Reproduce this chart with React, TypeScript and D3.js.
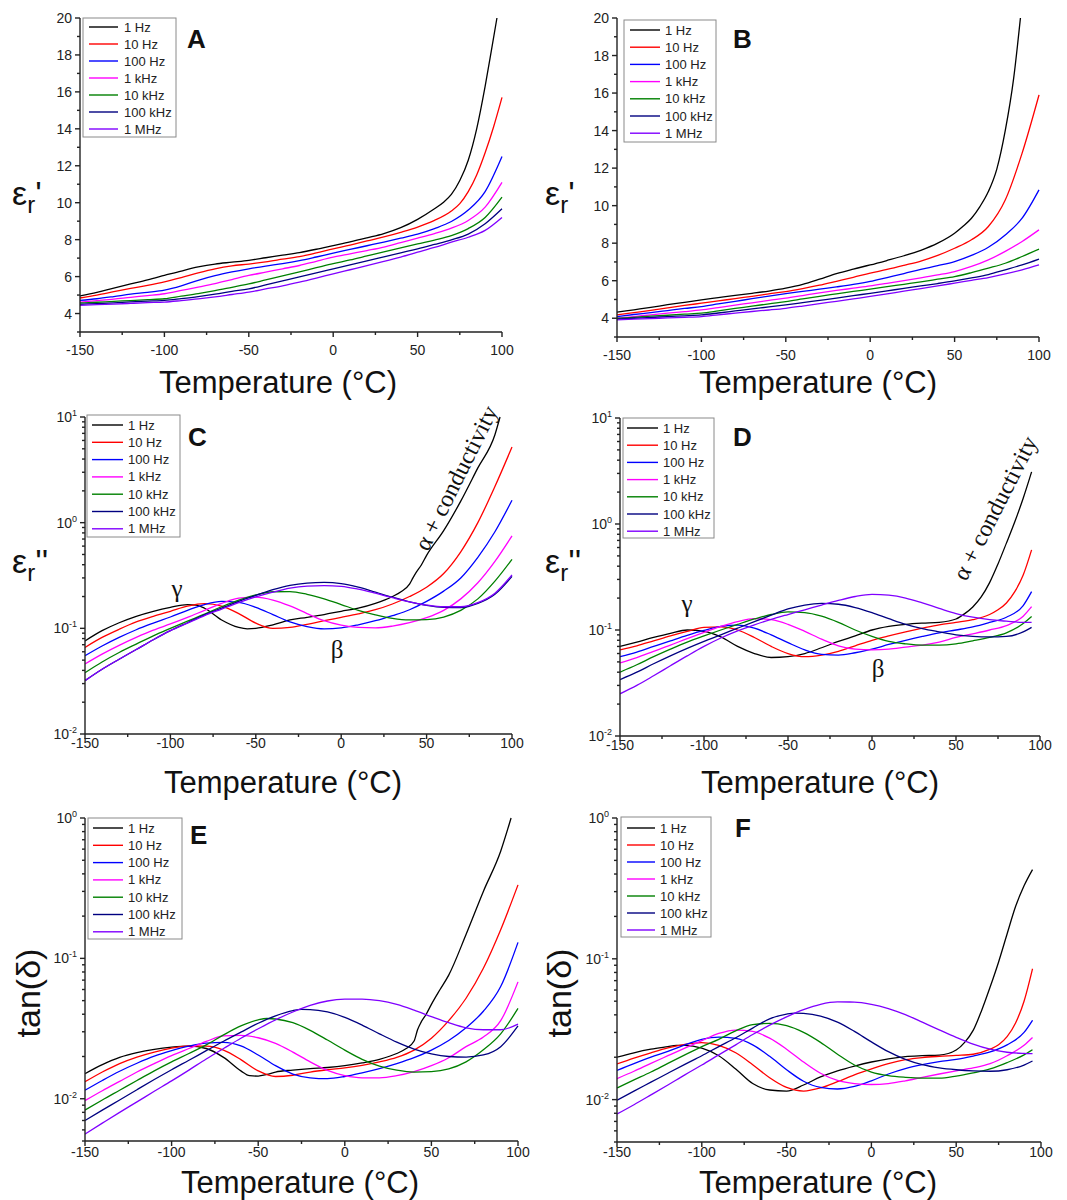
import React from 'react';
import * as d3 from 'd3';

type Pt = [number, number];

const seriesNames = ['1 Hz', '10 Hz', '100 Hz', '1 kHz', '10 kHz', '100 kHz', '1 MHz'];
const seriesColors = ['#000000', '#ff0000', '#0000ff', '#ff00ff', '#008000', '#000080', '#8000ff'];
const xTickValues = [-150, -100, -50, 0, 50, 100];
const xMinorValues = [-125, -75, -25, 25, 75];
const linTickValues = [4, 6, 8, 10, 12, 14, 16, 18, 20];
const linMinorValues = [3, 5, 7, 9, 11, 13, 15, 17, 19];

// ---------- Panel A: eps' ----------
const A_1Hz: Pt[] = [[-150,4.95],[-140,5.15],[-130,5.38],[-120,5.6],[-110,5.82],[-100,6.06],[-90,6.3],[-80,6.52],[-70,6.68],[-60,6.78],[-50,6.88],[-40,7.02],[-30,7.16],[-20,7.3],[-10,7.48],[0,7.68],[10,7.88],[20,8.1],[30,8.33],[40,8.65],[50,9.1],[60,9.67],[65,10.0],[70,10.45],[75,11.2],[80,12.3],[85,14.0],[90,16.3],[94,18.4],[97,20]];
const A_10Hz: Pt[] = [[-150,4.84],[-140,5.0],[-130,5.18],[-120,5.36],[-110,5.53],[-100,5.72],[-90,5.95],[-80,6.2],[-70,6.42],[-60,6.58],[-50,6.68],[-40,6.8],[-30,6.94],[-20,7.08],[-10,7.28],[0,7.5],[10,7.7],[20,7.93],[30,8.15],[40,8.4],[50,8.68],[60,9.04],[70,9.55],[75,9.95],[80,10.6],[85,11.5],[90,12.7],[95,14.1],[100,15.7]];
const A_100Hz: Pt[] = [[-150,4.71],[-140,4.8],[-130,4.92],[-120,5.05],[-110,5.15],[-100,5.27],[-90,5.5],[-80,5.8],[-70,6.05],[-60,6.25],[-50,6.42],[-40,6.57],[-30,6.7],[-20,6.86],[-10,7.06],[0,7.27],[10,7.47],[20,7.67],[30,7.87],[40,8.08],[50,8.3],[60,8.6],[70,8.98],[80,9.6],[90,10.6],[100,12.5]];
const A_1kHz: Pt[] = [[-150,4.62],[-140,4.7],[-130,4.78],[-120,4.88],[-110,4.97],[-100,5.07],[-90,5.25],[-80,5.43],[-70,5.62],[-60,5.84],[-50,6.06],[-40,6.24],[-30,6.42],[-20,6.6],[-10,6.83],[0,7.05],[10,7.23],[20,7.41],[30,7.6],[40,7.84],[50,8.08],[60,8.33],[70,8.62],[80,9.04],[90,9.76],[100,11.1]];
const A_10kHz: Pt[] = [[-150,4.57],[-140,4.61],[-130,4.66],[-120,4.7],[-110,4.75],[-100,4.8],[-90,4.94],[-80,5.08],[-70,5.24],[-60,5.42],[-50,5.6],[-40,5.82],[-30,6.04],[-20,6.26],[-10,6.48],[0,6.7],[10,6.9],[20,7.12],[30,7.34],[40,7.55],[50,7.77],[60,7.98],[70,8.22],[80,8.6],[90,9.2],[100,10.3]];
const A_100kHz: Pt[] = [[-150,4.5],[-140,4.54],[-130,4.58],[-120,4.63],[-110,4.67],[-100,4.71],[-90,4.81],[-80,4.92],[-70,5.05],[-60,5.2],[-50,5.34],[-40,5.55],[-30,5.77],[-20,5.99],[-10,6.2],[0,6.42],[10,6.64],[20,6.85],[30,7.07],[40,7.29],[50,7.5],[60,7.74],[70,7.99],[80,8.3],[90,8.86],[100,9.67]];
const A_1MHz: Pt[] = [[-150,4.44],[-140,4.48],[-130,4.51],[-120,4.55],[-110,4.59],[-100,4.62],[-90,4.7],[-80,4.79],[-70,4.9],[-60,5.03],[-50,5.16],[-40,5.33],[-30,5.5],[-20,5.7],[-10,5.92],[0,6.15],[10,6.37],[20,6.59],[30,6.82],[40,7.06],[50,7.32],[60,7.58],[70,7.86],[80,8.13],[90,8.5],[100,9.2]];

// ---------- Panel B: eps' ----------
const B_1Hz: Pt[] = [[-150,4.32],[-140,4.45],[-130,4.58],[-120,4.72],[-110,4.85],[-100,4.98],[-90,5.1],[-80,5.22],[-70,5.33],[-60,5.45],[-50,5.6],[-40,5.8],[-30,6.08],[-20,6.38],[-10,6.62],[0,6.84],[10,7.08],[20,7.33],[30,7.62],[40,8.0],[50,8.53],[55,8.9],[60,9.33],[65,9.95],[70,10.75],[75,11.95],[80,14.0],[85,16.8],[89,20]];
const B_10Hz: Pt[] = [[-150,4.18],[-140,4.3],[-130,4.42],[-120,4.55],[-110,4.68],[-100,4.8],[-90,4.92],[-80,5.05],[-70,5.17],[-60,5.3],[-50,5.42],[-40,5.58],[-30,5.76],[-20,5.97],[-10,6.18],[0,6.4],[10,6.6],[20,6.82],[30,7.05],[40,7.35],[50,7.73],[60,8.18],[70,8.89],[80,10.3],[90,12.8],[100,15.9]];
const B_100Hz: Pt[] = [[-150,4.09],[-140,4.2],[-130,4.3],[-120,4.41],[-110,4.52],[-100,4.62],[-90,4.76],[-80,4.9],[-70,5.04],[-60,5.18],[-50,5.31],[-40,5.43],[-30,5.55],[-20,5.67],[-10,5.8],[0,5.96],[10,6.17],[20,6.38],[30,6.6],[40,6.8],[50,7.02],[60,7.35],[70,7.78],[80,8.44],[90,9.33],[100,10.84]];
const B_1kHz: Pt[] = [[-150,4.0],[-140,4.09],[-130,4.18],[-120,4.27],[-110,4.35],[-100,4.44],[-90,4.57],[-80,4.7],[-70,4.82],[-60,4.95],[-50,5.07],[-40,5.21],[-30,5.35],[-20,5.48],[-10,5.6],[0,5.72],[10,5.86],[20,6.0],[30,6.15],[40,6.31],[50,6.49],[60,6.76],[70,7.11],[80,7.56],[90,8.09],[100,8.71]];
const B_10kHz: Pt[] = [[-150,4.0],[-140,4.05],[-130,4.11],[-120,4.16],[-110,4.22],[-100,4.27],[-90,4.39],[-80,4.52],[-70,4.64],[-60,4.77],[-50,4.89],[-40,5.03],[-30,5.17],[-20,5.3],[-10,5.43],[0,5.55],[10,5.68],[20,5.81],[30,5.94],[40,6.08],[50,6.22],[60,6.43],[70,6.67],[80,6.93],[90,7.29],[100,7.68]];
const B_100kHz: Pt[] = [[-150,3.95],[-140,4.0],[-130,4.04],[-120,4.09],[-110,4.13],[-100,4.18],[-90,4.28],[-80,4.39],[-70,4.5],[-60,4.6],[-50,4.71],[-40,4.83],[-30,4.95],[-20,5.07],[-10,5.2],[0,5.33],[10,5.46],[20,5.59],[30,5.72],[40,5.85],[50,5.99],[60,6.15],[70,6.33],[80,6.58],[90,6.84],[100,7.15]];
const B_1MHz: Pt[] = [[-150,3.91],[-140,3.95],[-130,3.98],[-120,4.02],[-110,4.05],[-100,4.09],[-90,4.18],[-80,4.27],[-70,4.36],[-60,4.44],[-50,4.53],[-40,4.65],[-30,4.78],[-20,4.9],[-10,5.03],[0,5.16],[10,5.3],[20,5.44],[30,5.58],[40,5.72],[50,5.87],[60,6.02],[70,6.17],[80,6.36],[90,6.58],[100,6.84]];

// ---------- Panel C: eps'' ----------
const C_1Hz: Pt[] = [[-150,0.076],[-140,0.095],[-130,0.113],[-120,0.13],[-110,0.145],[-100,0.158],[-90,0.168],[-85,0.166],[-80,0.155],[-70,0.12],[-60,0.102],[-55,0.099],[-50,0.1],[-40,0.108],[-30,0.12],[-20,0.127],[-10,0.135],[0,0.145],[10,0.155],[20,0.172],[30,0.2],[35,0.222],[40,0.262],[42,0.3],[44,0.34],[47,0.4],[50,0.49],[60,0.84],[70,1.6],[80,3.3],[90,6.8],[93,10]];
const C_10Hz: Pt[] = [[-150,0.066],[-140,0.082],[-130,0.098],[-120,0.115],[-110,0.13],[-100,0.145],[-90,0.162],[-80,0.171],[-70,0.162],[-60,0.138],[-50,0.112],[-40,0.1],[-30,0.102],[-20,0.109],[-10,0.118],[0,0.127],[10,0.137],[20,0.15],[30,0.17],[40,0.2],[50,0.245],[60,0.33],[70,0.53],[80,1.0],[90,2.2],[100,5.2]];
const C_100Hz: Pt[] = [[-150,0.055],[-140,0.068],[-130,0.082],[-120,0.097],[-110,0.112],[-100,0.128],[-90,0.148],[-80,0.168],[-70,0.18],[-60,0.176],[-50,0.158],[-40,0.135],[-30,0.115],[-20,0.104],[-10,0.099],[0,0.101],[10,0.108],[20,0.118],[30,0.132],[40,0.15],[50,0.18],[60,0.225],[70,0.3],[80,0.47],[90,0.82],[100,1.63]];
const C_1kHz: Pt[] = [[-150,0.046],[-140,0.057],[-130,0.069],[-120,0.082],[-110,0.096],[-100,0.11],[-90,0.127],[-80,0.148],[-70,0.172],[-60,0.193],[-50,0.197],[-40,0.185],[-30,0.163],[-20,0.138],[-10,0.118],[0,0.107],[10,0.102],[20,0.101],[30,0.105],[40,0.113],[50,0.126],[60,0.148],[70,0.19],[80,0.27],[90,0.43],[100,0.75]];
const C_10kHz: Pt[] = [[-150,0.038],[-140,0.048],[-130,0.059],[-120,0.071],[-110,0.085],[-100,0.1],[-90,0.117],[-80,0.136],[-70,0.16],[-60,0.185],[-50,0.207],[-40,0.222],[-30,0.223],[-20,0.21],[-10,0.19],[0,0.168],[10,0.148],[20,0.134],[30,0.124],[40,0.12],[50,0.121],[60,0.128],[70,0.148],[80,0.19],[90,0.28],[100,0.45]];
const C_100kHz: Pt[] = [[-150,0.032],[-140,0.041],[-130,0.051],[-120,0.063],[-110,0.078],[-100,0.095],[-90,0.113],[-80,0.134],[-70,0.155],[-60,0.18],[-50,0.205],[-40,0.232],[-30,0.255],[-20,0.268],[-10,0.272],[0,0.265],[10,0.245],[20,0.22],[30,0.197],[40,0.178],[50,0.165],[60,0.158],[70,0.157],[80,0.172],[90,0.21],[100,0.31]];
const C_1MHz: Pt[] = [[-150,0.032],[-140,0.041],[-130,0.051],[-120,0.063],[-110,0.078],[-100,0.095],[-90,0.112],[-80,0.132],[-70,0.152],[-60,0.175],[-50,0.198],[-40,0.22],[-30,0.24],[-20,0.251],[-10,0.254],[0,0.25],[10,0.235],[20,0.215],[30,0.195],[40,0.178],[50,0.166],[60,0.16],[70,0.16],[80,0.175],[90,0.215],[100,0.32]];

// ---------- Panel D: eps'' ----------
const D_1Hz: Pt[] = [[-150,0.07],[-140,0.077],[-130,0.085],[-120,0.093],[-110,0.1],[-100,0.097],[-90,0.086],[-80,0.07],[-70,0.06],[-60,0.055],[-50,0.056],[-40,0.06],[-30,0.068],[-20,0.078],[-10,0.088],[0,0.1],[10,0.108],[20,0.113],[30,0.116],[40,0.118],[50,0.127],[55,0.142],[60,0.165],[65,0.205],[70,0.28],[75,0.42],[80,0.66],[85,1.05],[90,1.75],[95,3.1]];
const D_10Hz: Pt[] = [[-150,0.065],[-140,0.071],[-130,0.079],[-120,0.088],[-110,0.097],[-100,0.106],[-90,0.107],[-80,0.1],[-70,0.085],[-60,0.07],[-50,0.06],[-40,0.056],[-30,0.058],[-20,0.063],[-10,0.071],[0,0.08],[10,0.088],[20,0.096],[30,0.104],[40,0.112],[50,0.118],[60,0.125],[70,0.14],[75,0.155],[80,0.18],[85,0.23],[90,0.33],[95,0.57]];
const D_100Hz: Pt[] = [[-150,0.056],[-140,0.062],[-130,0.07],[-120,0.079],[-110,0.089],[-100,0.099],[-90,0.108],[-80,0.111],[-70,0.104],[-60,0.09],[-50,0.076],[-40,0.065],[-30,0.059],[-20,0.058],[-10,0.061],[0,0.066],[10,0.073],[20,0.08],[30,0.087],[40,0.094],[50,0.1],[60,0.107],[70,0.118],[80,0.132],[90,0.17],[95,0.23]];
const D_1kHz: Pt[] = [[-150,0.049],[-140,0.055],[-130,0.063],[-120,0.072],[-110,0.083],[-100,0.095],[-90,0.108],[-80,0.12],[-70,0.128],[-60,0.125],[-50,0.113],[-40,0.097],[-30,0.082],[-20,0.071],[-10,0.066],[0,0.065],[10,0.066],[20,0.069],[30,0.072],[40,0.077],[50,0.085],[60,0.092],[70,0.1],[80,0.11],[90,0.135],[95,0.166]];
const D_10kHz: Pt[] = [[-150,0.04],[-140,0.047],[-130,0.056],[-120,0.066],[-110,0.077],[-100,0.088],[-90,0.1],[-80,0.113],[-70,0.127],[-60,0.14],[-50,0.148],[-40,0.146],[-30,0.135],[-20,0.118],[-10,0.1],[0,0.087],[10,0.078],[20,0.074],[30,0.072],[40,0.072],[50,0.074],[60,0.079],[70,0.085],[80,0.094],[90,0.115],[95,0.134]];
const D_100kHz: Pt[] = [[-150,0.034],[-140,0.04],[-130,0.048],[-120,0.057],[-110,0.067],[-100,0.078],[-90,0.09],[-80,0.104],[-70,0.12],[-60,0.138],[-50,0.158],[-40,0.172],[-30,0.178],[-20,0.175],[-10,0.163],[0,0.146],[10,0.128],[20,0.113],[30,0.103],[40,0.096],[50,0.09],[60,0.087],[70,0.086],[80,0.087],[90,0.096],[95,0.106]];
const D_1MHz: Pt[] = [[-150,0.025],[-140,0.03],[-130,0.037],[-120,0.046],[-110,0.057],[-100,0.07],[-90,0.084],[-80,0.098],[-70,0.112],[-60,0.126],[-50,0.14],[-40,0.155],[-30,0.172],[-20,0.19],[-10,0.207],[0,0.217],[10,0.213],[20,0.2],[30,0.18],[40,0.16],[50,0.143],[60,0.132],[70,0.125],[80,0.121],[90,0.118],[95,0.118]];

// ---------- Panel E: tan(delta) ----------
const E_1Hz: Pt[] = [[-150,0.0151],[-140,0.0175],[-130,0.0197],[-120,0.0213],[-110,0.0225],[-100,0.0233],[-90,0.0237],[-80,0.0228],[-70,0.0197],[-60,0.0158],[-55,0.0146],[-50,0.0145],[-45,0.0149],[-40,0.0155],[-30,0.016],[-20,0.0164],[-10,0.0167],[0,0.0172],[10,0.018],[20,0.0191],[30,0.021],[35,0.0226],[40,0.0258],[42,0.031],[44,0.035],[47,0.04],[50,0.047],[55,0.06],[60,0.076],[70,0.148],[80,0.3],[90,0.58],[96,1.0]];
const E_10Hz: Pt[] = [[-150,0.0132],[-140,0.0155],[-130,0.0178],[-120,0.0198],[-110,0.0215],[-100,0.0229],[-90,0.0238],[-80,0.0237],[-70,0.0222],[-60,0.019],[-50,0.0158],[-40,0.0144],[-30,0.0147],[-20,0.0155],[-10,0.0161],[0,0.0166],[10,0.0173],[20,0.0183],[30,0.0197],[40,0.0222],[50,0.027],[60,0.036],[70,0.052],[80,0.085],[90,0.16],[100,0.334]];
const E_100Hz: Pt[] = [[-150,0.0115],[-140,0.0135],[-130,0.0157],[-120,0.0179],[-110,0.0201],[-100,0.022],[-90,0.0237],[-80,0.0249],[-70,0.0252],[-60,0.0238],[-50,0.0205],[-40,0.0172],[-30,0.015],[-20,0.0141],[-10,0.0139],[0,0.0144],[10,0.0153],[20,0.0164],[30,0.0178],[40,0.0196],[50,0.0222],[60,0.026],[70,0.032],[80,0.042],[90,0.063],[100,0.13]];
const E_1kHz: Pt[] = [[-150,0.0097],[-140,0.0114],[-130,0.0133],[-120,0.0155],[-110,0.0178],[-100,0.0203],[-90,0.0228],[-80,0.0256],[-70,0.028],[-60,0.0283],[-50,0.0272],[-40,0.0248],[-30,0.0215],[-20,0.0183],[-10,0.0159],[0,0.0146],[10,0.0141],[20,0.0141],[30,0.0146],[40,0.0156],[50,0.0172],[60,0.0196],[70,0.0235],[80,0.0275],[90,0.036],[100,0.068]];
const E_10kHz: Pt[] = [[-150,0.0083],[-140,0.0098],[-130,0.0115],[-120,0.0135],[-110,0.0158],[-100,0.0183],[-90,0.021],[-80,0.0242],[-70,0.0285],[-60,0.033],[-50,0.0365],[-45,0.0373],[-40,0.037],[-30,0.0348],[-20,0.0307],[-10,0.0262],[0,0.0222],[10,0.0191],[20,0.0171],[30,0.016],[40,0.0155],[50,0.0156],[60,0.0163],[70,0.0183],[80,0.0223],[90,0.029],[100,0.044]];
const E_100kHz: Pt[] = [[-150,0.007],[-140,0.0083],[-130,0.0098],[-120,0.0116],[-110,0.0137],[-100,0.0161],[-90,0.0188],[-80,0.022],[-70,0.0257],[-60,0.0298],[-50,0.0345],[-40,0.039],[-30,0.0425],[-25,0.0433],[-20,0.0432],[-10,0.0415],[0,0.038],[10,0.0335],[20,0.029],[30,0.0253],[40,0.0226],[50,0.0209],[60,0.02],[70,0.0198],[80,0.0205],[90,0.0235],[100,0.033]];
const E_1MHz: Pt[] = [[-150,0.0056],[-140,0.0067],[-130,0.008],[-120,0.0095],[-110,0.0113],[-100,0.0134],[-90,0.016],[-80,0.0192],[-70,0.0228],[-60,0.027],[-50,0.0315],[-40,0.0365],[-30,0.0415],[-20,0.0462],[-10,0.0497],[0,0.0512],[10,0.0513],[20,0.05],[30,0.047],[40,0.0428],[50,0.0385],[60,0.0348],[70,0.032],[80,0.031],[90,0.031],[100,0.034]];

// ---------- Panel F: tan(delta) ----------
const F_1Hz: Pt[] = [[-150,0.02],[-140,0.0215],[-130,0.0228],[-120,0.0238],[-115,0.0243],[-110,0.0243],[-100,0.0232],[-90,0.0205],[-80,0.0165],[-70,0.013],[-60,0.0117],[-50,0.0115],[-40,0.0127],[-30,0.0145],[-20,0.016],[-10,0.0173],[0,0.0185],[10,0.0195],[20,0.0202],[30,0.0205],[40,0.0207],[50,0.0225],[55,0.0255],[60,0.031],[65,0.043],[70,0.063],[75,0.095],[80,0.15],[85,0.235],[90,0.33],[95,0.43]];
const F_10Hz: Pt[] = [[-150,0.0179],[-140,0.0197],[-130,0.0215],[-120,0.0233],[-110,0.0247],[-100,0.0254],[-90,0.0243],[-80,0.0215],[-70,0.0177],[-60,0.0143],[-50,0.0122],[-40,0.0115],[-30,0.0121],[-20,0.0134],[-10,0.015],[0,0.0165],[10,0.018],[20,0.0192],[30,0.0199],[40,0.0203],[50,0.0206],[60,0.021],[70,0.0228],[75,0.0245],[80,0.028],[85,0.035],[90,0.05],[95,0.085]];
const F_100Hz: Pt[] = [[-150,0.0161],[-140,0.018],[-130,0.02],[-120,0.022],[-110,0.0245],[-100,0.0268],[-90,0.0278],[-80,0.0272],[-70,0.0245],[-60,0.0203],[-50,0.0163],[-40,0.0135],[-30,0.0122],[-20,0.0119],[-10,0.0124],[0,0.0136],[10,0.0152],[20,0.0166],[30,0.0177],[40,0.0186],[50,0.0193],[60,0.0204],[70,0.0218],[80,0.0245],[90,0.03],[95,0.0366]];
const F_1kHz: Pt[] = [[-150,0.0141],[-140,0.0159],[-130,0.0181],[-120,0.0205],[-110,0.0232],[-100,0.0262],[-90,0.0295],[-80,0.0312],[-70,0.0305],[-60,0.0273],[-50,0.0228],[-40,0.0185],[-30,0.0154],[-20,0.0137],[-10,0.013],[0,0.0128],[10,0.013],[20,0.0136],[30,0.0144],[40,0.0152],[50,0.016],[60,0.0168],[70,0.018],[80,0.0205],[90,0.0243],[95,0.0276]];
const F_10kHz: Pt[] = [[-150,0.0121],[-140,0.0138],[-130,0.0157],[-120,0.0181],[-110,0.0208],[-100,0.0238],[-90,0.0268],[-80,0.0308],[-70,0.0341],[-60,0.0348],[-50,0.0335],[-40,0.03],[-30,0.0255],[-20,0.021],[-10,0.0176],[0,0.0157],[10,0.0148],[20,0.0144],[30,0.0142],[40,0.0142],[50,0.0147],[60,0.0155],[70,0.0165],[80,0.0183],[90,0.0208],[95,0.0226]];
const F_100kHz: Pt[] = [[-150,0.0099],[-140,0.0115],[-130,0.0133],[-120,0.0154],[-110,0.0178],[-100,0.0205],[-90,0.0238],[-80,0.0275],[-70,0.0322],[-60,0.0375],[-50,0.0405],[-45,0.0412],[-40,0.041],[-30,0.0392],[-20,0.0355],[-10,0.0305],[0,0.0257],[10,0.0219],[20,0.0193],[30,0.0177],[40,0.0168],[50,0.0163],[60,0.016],[70,0.0159],[80,0.0163],[90,0.0176],[95,0.0188]];
const F_1MHz: Pt[] = [[-150,0.0079],[-140,0.0092],[-130,0.0108],[-120,0.0127],[-110,0.015],[-100,0.0176],[-90,0.0208],[-80,0.0245],[-70,0.029],[-60,0.0338],[-50,0.0387],[-40,0.0435],[-30,0.0475],[-20,0.0494],[-10,0.0493],[0,0.0475],[10,0.0443],[20,0.0401],[30,0.0355],[40,0.0313],[50,0.0277],[60,0.0248],[70,0.0228],[80,0.0217],[90,0.0213],[95,0.0212]];

const FONT = "'Liberation Sans', Arial, Helvetica, sans-serif";
const SERIF = "'Liberation Serif', 'DejaVu Serif', 'Times New Roman', serif";

type PanelCfg = {
  id: string;
  left: number; right: number; top: number; bottom: number;
  log: boolean;
  yDomain: [number, number];
  series: Pt[][];
  xLabelBase: number;
  titleX: number; titleY: number;
  yLabel: 'eps1' | 'eps2' | 'tan';
  yLabelX: number; yLabelY: number;
  legend: { x: number; y: number; w: number; h: number; row0: number; step: number; lx1: number; lx2: number; tx: number };
  letterX: number; letterY: number;
  gamma?: [number, number]; beta?: [number, number]; alpha?: [number, number, number];
};

const panels: PanelCfg[] = [
  { id: 'A', left: 80, right: 502, top: 18, bottom: 332, log: false, yDomain: [3, 20],
    series: [A_1Hz, A_10Hz, A_100Hz, A_1kHz, A_10kHz, A_100kHz, A_1MHz],
    xLabelBase: 355, titleX: 278, titleY: 393, yLabel: 'eps1', yLabelX: 12, yLabelY: 205,
    legend: { x: 83, y: 18, w: 93, h: 119, row0: 27, step: 17, lx1: 89, lx2: 118, tx: 124 },
    letterX: 187, letterY: 48 },
  { id: 'B', left: 617, right: 1039, top: 18, bottom: 337, log: false, yDomain: [3, 20],
    series: [B_1Hz, B_10Hz, B_100Hz, B_1kHz, B_10kHz, B_100kHz, B_1MHz],
    xLabelBase: 360, titleX: 818, titleY: 393, yLabel: 'eps1', yLabelX: 545, yLabelY: 205,
    legend: { x: 624, y: 20, w: 92, h: 122, row0: 30, step: 17.2, lx1: 630, lx2: 660, tx: 665 },
    letterX: 733, letterY: 48 },
  { id: 'C', left: 85, right: 512, top: 417, bottom: 734, log: true, yDomain: [0.01, 10],
    series: [C_1Hz, C_10Hz, C_100Hz, C_1kHz, C_10kHz, C_100kHz, C_1MHz],
    xLabelBase: 748, titleX: 283, titleY: 793, yLabel: 'eps2', yLabelX: 12, yLabelY: 573,
    legend: { x: 87, y: 415, w: 93, h: 122, row0: 425, step: 17.3, lx1: 92, lx2: 123, tx: 128 },
    letterX: 188, letterY: 446, gamma: [177, 597], beta: [337, 658], alpha: [456, 478, -63.5] },
  { id: 'D', left: 620, right: 1040, top: 418, bottom: 736, log: true, yDomain: [0.01, 10],
    series: [D_1Hz, D_10Hz, D_100Hz, D_1kHz, D_10kHz, D_100kHz, D_1MHz],
    xLabelBase: 750, titleX: 820, titleY: 793, yLabel: 'eps2', yLabelX: 545, yLabelY: 573,
    legend: { x: 623, y: 418, w: 91, h: 120, row0: 428, step: 17.2, lx1: 627, lx2: 658, tx: 663 },
    letterX: 733, letterY: 446, gamma: [687, 612], beta: [878, 677], alpha: [995, 508, -63] },
  { id: 'E', left: 85, right: 518, top: 818, bottom: 1141, log: true, yDomain: [0.005, 1],
    series: [E_1Hz, E_10Hz, E_100Hz, E_1kHz, E_10kHz, E_100kHz, E_1MHz],
    xLabelBase: 1157, titleX: 300, titleY: 1193, yLabel: 'tan', yLabelX: 40, yLabelY: 993,
    legend: { x: 88, y: 818, w: 94, h: 121, row0: 828, step: 17.3, lx1: 93, lx2: 123, tx: 128 },
    letterX: 190, letterY: 844 },
  { id: 'F', left: 617, right: 1041, top: 818, bottom: 1142, log: true, yDomain: [0.005, 1],
    series: [F_1Hz, F_10Hz, F_100Hz, F_1kHz, F_10kHz, F_100kHz, F_1MHz],
    xLabelBase: 1157, titleX: 818, titleY: 1193, yLabel: 'tan', yLabelX: 571, yLabelY: 993,
    legend: { x: 621, y: 817, w: 90, h: 120, row0: 828, step: 17, lx1: 627, lx2: 655, tx: 660 },
    letterX: 735, letterY: 837 },
];

function Panel({ p }: { p: PanelCfg }) {
  const x = d3.scaleLinear().domain([-150, 100]).range([p.left, p.right]);
  const y: any = p.log
    ? d3.scaleLog().domain(p.yDomain).range([p.bottom, p.top])
    : d3.scaleLinear().domain(p.yDomain).range([p.bottom, p.top]);
  const line = d3.line<Pt>().x(d => x(d[0])).y(d => y(d[1])).curve(d3.curveMonotoneX);

  const majors: { v: number; label: string }[] = [];
  const minors: number[] = [];
  if (p.log) {
    const e0 = Math.floor(Math.log10(p.yDomain[0]) + 1e-9);
    const e1 = Math.ceil(Math.log10(p.yDomain[1]) - 1e-9);
    for (let e = e0; e <= e1; e++) {
      const dv = Math.pow(10, e);
      if (dv >= p.yDomain[0] * 0.999 && dv <= p.yDomain[1] * 1.001) majors.push({ v: dv, label: String(e) });
      for (let k = 2; k <= 9; k++) {
        const mv = k * dv;
        if (mv >= p.yDomain[0] * 0.999 && mv <= p.yDomain[1] * 1.001) minors.push(mv);
      }
    }
  } else {
    linTickValues.forEach(v => majors.push({ v, label: String(v) }));
    linMinorValues.forEach(v => minors.push(v));
  }

  const clipId = `clip-${p.id}`;
  return (
    <g>
      <defs>
        <clipPath id={clipId}>
          <rect x={p.left} y={p.top - 2} width={p.right - p.left + 2} height={p.bottom - p.top + 2} />
        </clipPath>
      </defs>
      <g clipPath={`url(#${clipId})`} fill="none" strokeWidth={1.3}>
        {p.series.map((s, i) => (
          <path key={i} d={line(s) || ''} stroke={seriesColors[i]} />
        ))}
      </g>
      <g stroke="#222" strokeWidth={1.4} fill="none">
        <line x1={p.left} x2={p.left} y1={p.top} y2={p.bottom} />
        <line x1={p.left} x2={p.right} y1={p.bottom} y2={p.bottom} />
        {xTickValues.map(v => <line key={'xm' + v} x1={x(v)} x2={x(v)} y1={p.bottom} y2={p.bottom + 5} />)}
        {xMinorValues.map(v => <line key={'xn' + v} x1={x(v)} x2={x(v)} y1={p.bottom} y2={p.bottom + 3} />)}
        {majors.map(m => <line key={'ym' + m.v} x1={p.left - 5} x2={p.left} y1={y(m.v)} y2={y(m.v)} />)}
        {minors.map(v => <line key={'yn' + v} x1={p.left - 3} x2={p.left} y1={y(v)} y2={y(v)} />)}
      </g>
      <g fontFamily={FONT} fontSize={14} fill="#222">
        {xTickValues.map(v => (
          <text key={'xl' + v} x={x(v)} y={p.xLabelBase} textAnchor="middle">{String(v)}</text>
        ))}
        {majors.map(m => p.log ? (
          <text key={'yl' + m.v} x={p.left - 8} y={y(m.v) + 5} textAnchor="end">
            10<tspan fontSize={9} dy={-6}>{m.label}</tspan>
          </text>
        ) : (
          <text key={'yl' + m.v} x={p.left - 8} y={y(m.v) + 5} textAnchor="end">{m.label}</text>
        ))}
      </g>
      <text x={p.titleX} y={p.titleY} textAnchor="middle" fontFamily={FONT} fontSize={31} fill="#111">Temperature (°C)</text>
      {p.yLabel === 'tan' ? (
        <text transform={`translate(${p.yLabelX},${p.yLabelY}) rotate(-90)`} textAnchor="middle" fontFamily={FONT} fontSize={34} fill="#111">tan(δ)</text>
      ) : (
        <text x={p.yLabelX} y={p.yLabelY} fontFamily={FONT} fontSize={34} fill="#111">
          ε<tspan fontSize={24} dy={8}>r</tspan><tspan fontSize={34} dy={-8}>{p.yLabel === 'eps1' ? "'" : "''"}</tspan>
        </text>
      )}
      <rect x={p.legend.x} y={p.legend.y} width={p.legend.w} height={p.legend.h} fill="#fff" stroke="#8a8a8a" strokeWidth={1} />
      {seriesNames.map((n, i) => {
        const yy = p.legend.row0 + i * p.legend.step;
        return (
          <g key={n}>
            <line x1={p.legend.lx1} x2={p.legend.lx2} y1={yy} y2={yy} stroke={seriesColors[i]} strokeWidth={1.4} />
            <text x={p.legend.tx} y={yy + 4.5} fontFamily={FONT} fontSize={13} fill="#222">{n}</text>
          </g>
        );
      })}
      <text x={p.letterX} y={p.letterY} fontFamily={FONT} fontSize={26} fontWeight="bold" fill="#111">{p.id}</text>
      {p.gamma && <text x={p.gamma[0]} y={p.gamma[1]} textAnchor="middle" fontFamily={SERIF} fontSize={25} fill="#111">γ</text>}
      {p.beta && <text x={p.beta[0]} y={p.beta[1]} textAnchor="middle" fontFamily={SERIF} fontSize={25} fill="#111">β</text>}
      {p.alpha && (
        <text transform={`translate(${p.alpha[0]},${p.alpha[1]}) rotate(${p.alpha[2]})`} textAnchor="middle" dominantBaseline="central" fontFamily={SERIF} fontSize={24} fill="#111">α + conductivity</text>
      )}
    </g>
  );
}

export default function App() {
  return (
    <svg width={1067} height={1200} viewBox="0 0 1067 1200" style={{ position: 'absolute', left: 0, top: 0, background: '#fff', display: 'block' }}>
      <rect x={0} y={0} width={1067} height={1200} fill="#fff" />
      {panels.map(p => <Panel key={p.id} p={p} />)}
    </svg>
  );
}
